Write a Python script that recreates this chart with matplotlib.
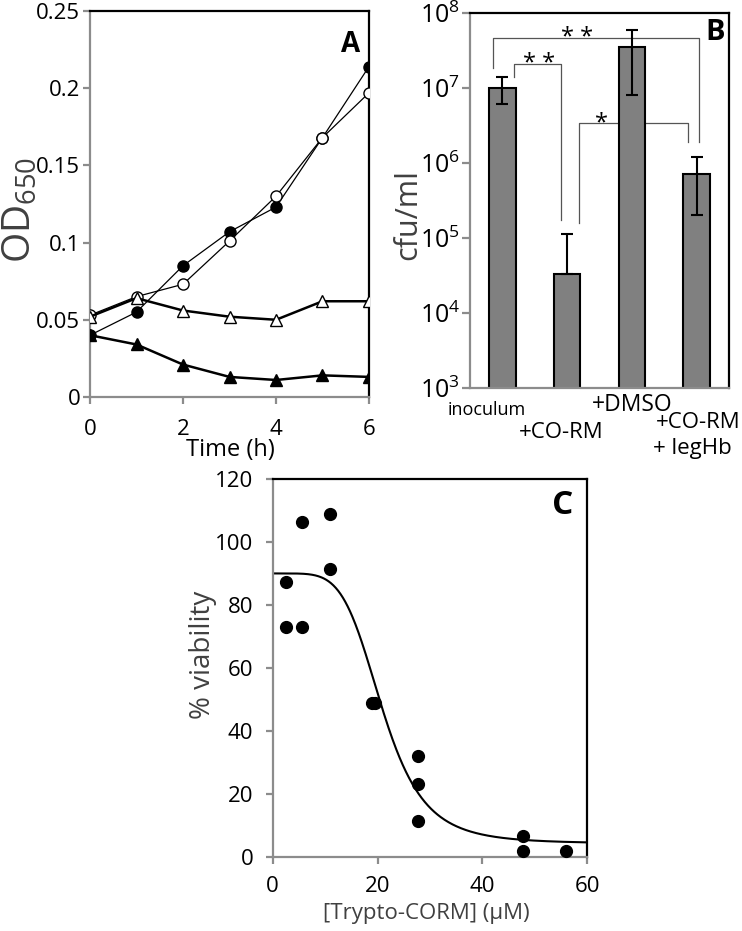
import numpy as np
import matplotlib.pyplot as plt
from matplotlib.ticker import NullLocator

plt.rcParams['font.family'] = ['Open Sans', 'DejaVu Sans']
plt.rcParams['mathtext.fontset'] = 'custom'
plt.rcParams['mathtext.rm'] = 'Open Sans'

# panel A: growth curves
time_h = [0, 1, 2, 3, 4, 5, 6]
od_filled_circle = [0.040, 0.055, 0.085, 0.107, 0.123, 0.168, 0.214]
od_open_circle = [0.053, 0.065, 0.073, 0.101, 0.130, 0.168, 0.197]
od_open_tri = [0.052, 0.064, 0.056, 0.052, 0.050, 0.062, 0.062]
od_filled_tri = [0.040, 0.034, 0.021, 0.013, 0.011, 0.014, 0.013]
a_xticks = [0, 2, 4, 6]
a_yticks = [0, 0.05, 0.1, 0.15, 0.2, 0.25]
a_yticklabels = ['0', '0.05', '0.1', '0.15', '0.2', '0.25']

# panel B: viable counts
conditions = ['inoculum', '+CO-RM', '+DMSO', '+CO-RM', '+ legHb']
cfu = [1.0e7, 3.3e4, 3.5e7, 7.1e5]
cfu_err_low = [3.9e6, 0, 2.7e7, 5.1e5]
cfu_err_high = [4.0e6, 7.9e4, 2.4e7, 4.9e5]
b_yticks = [1e3, 1e4, 1e5, 1e6, 1e7, 1e8]
# significance brackets: x left, x right, top, left end, right end, label x, label
brackets = [
    (-0.15, 3.03, 4.6e7, 1.85e7, 1.9e6, 1.16, '* *'),
    (0.18, 0.91, 2.1e7, 1.4e7, 1.74e5, 0.56, '* *'),
    (1.19, 2.87, 3.4e6, 1.6e5, 1.9e6, 1.53, '*'),
]

# panel C: dose response
conc = [2.5, 2.5, 5.6, 5.6, 11.0, 11.0, 19.0, 19.6, 27.8, 27.8, 27.8, 47.7, 47.7, 55.9]
viability = [87.3, 72.9, 106.4, 72.9, 108.9, 91.5, 48.9, 48.9, 32.1, 23.1, 11.4, 6.6, 1.9, 1.9]
fit_top, fit_bottom, fit_ec50, fit_hill = 90.0, 4.2, 20.9, 5.2

W, H = 742, 931
fig = plt.figure(figsize=(W / 100, H / 100), dpi=100)
axA = fig.add_axes([0.1213, 0.5736, 0.376, 0.4146])
axB = fig.add_axes([0.6334, 0.5832, 0.349, 0.4028])
axC = fig.add_axes([0.3675, 0.0798, 0.424, 0.4057])

grey = '#8c8c8c'
label_col = '#404040'


def style(ax):
    for s in ['left', 'bottom']:
        ax.spines[s].set_color(grey)
        ax.spines[s].set_linewidth(1.6)
    for s in ['top', 'right']:
        ax.spines[s].set_color('black')
        ax.spines[s].set_linewidth(1.6)
    ax.tick_params(colors=grey, labelcolor='black', length=5, width=1.6)


def fig_label(text, px, py, rot=0, **kw):
    # axis titles placed by pixel centre
    fig.text(px / W, 1 - py / H, text, rotation=rot, ha='center', va='center', **kw)


# ---- A
style(axA)
axA.plot(time_h, od_filled_tri, '-^', color='black', lw=1.8, ms=8, zorder=3)
axA.plot(time_h, od_filled_circle, '-o', color='black', lw=0.9, ms=8, zorder=4)
axA.plot(time_h, od_open_circle, '-o', color='black', mfc='white', lw=0.9, ms=8, zorder=5)
axA.plot(time_h, od_open_tri, '-^', color='black', mfc='white', lw=1.8, ms=8, zorder=6)
axA.set_xlim(0, 6)
axA.set_ylim(0, 0.25)
axA.set_xticks(a_xticks)
axA.set_yticks(a_yticks)
axA.set_yticklabels(a_yticklabels)
axA.tick_params(axis='both', labelsize=16)
axA.tick_params(axis='x', pad=11)
axA.tick_params(axis='y', pad=2)
fig_label('Time (h)', 230, 450, fontsize=17)
fig_label(r'$\mathregular{OD_{650}}$', 21, 210, rot=90, fontsize=28, color=label_col)
axA.text(0.968, 0.914, 'A', transform=axA.transAxes, ha='right', va='center',
         fontsize=20, fontweight='bold')

# ---- B
style(axB)
x = np.arange(len(cfu))
for (xl, xr, top, yl, yr, lx, lab) in brackets:
    axB.plot([xl, xl, xr, xr], [yl, top, top, yr], color='#555555', lw=0.9, zorder=1)
    axB.annotate(lab, (lx, top), xytext=(0, 0), textcoords='offset points',
                 ha='center', va='center', fontsize=17, zorder=1)
axB.bar(x, cfu, width=0.41, color='#808080', edgecolor='black', lw=1.5, zorder=2,
        yerr=[cfu_err_low, cfu_err_high], capsize=4,
        error_kw=dict(elinewidth=1.5, capthick=1.5, ecolor='black', zorder=3))
axB.set_yscale('log')
axB.set_ylim(1e3, 1e8)
axB.set_xlim(-0.5, 3.5)
axB.set_yticks(b_yticks)
axB.set_yticklabels([r'$\mathregular{10^{%d}}$' % int(np.log10(v)) for v in b_yticks])
axB.yaxis.set_minor_locator(NullLocator())
axB.tick_params(axis='y', labelsize=18, pad=1, length=6)
axB.tick_params(axis='x', bottom=False, labelbottom=False)
fig_label('cfu/ml', 408, 215, rot=90, fontsize=22, color=label_col)
# staggered category labels (bar index, dx px, dy px, size)
cat_pos = [(0, -16, -22, 13), (1, -6, -44, 16), (2, 0, -17, 16.5), (3, 2, -34, 16), (3, -4, -60, 16)]
for name, (i, dx, dy, fs) in zip(conditions, cat_pos):
    axB.annotate(name, (x[i], 0), xycoords=axB.get_xaxis_transform(),
                 xytext=(dx * 0.72, dy * 0.72), textcoords='offset points',
                 ha='center', va='center', fontsize=fs, annotation_clip=False)
axB.text(0.985, 0.947, 'B', transform=axB.transAxes, ha='right', va='center',
         fontsize=21, fontweight='bold')

# ---- C
style(axC)
xx = np.linspace(0, 60, 400)
fit = fit_bottom + (fit_top - fit_bottom) / (1 + (xx / fit_ec50) ** fit_hill)
axC.plot(xx, fit, color='black', lw=1.5, zorder=2)
axC.plot(conc, viability, 'o', color='black', ms=8.5, zorder=3, clip_on=False)
axC.set_xlim(0, 60)
axC.set_ylim(0, 120)
axC.set_xticks([0, 20, 40, 60])
axC.set_yticks(np.arange(0, 121, 20))
axC.tick_params(axis='both', labelsize=16)
axC.tick_params(axis='x', pad=9)
axC.tick_params(axis='y', pad=9)
fig_label('[Trypto-CORM] (\u00b5M)', 426, 913, fontsize=16, color=label_col)
fig_label('% viability', 203, 655, rot=90, fontsize=20, color=label_col)
axC.text(0.955, 0.931, 'C', transform=axC.transAxes, ha='right', va='center',
         fontsize=24, fontweight='bold')

fig.savefig('out.png', dpi=100)
